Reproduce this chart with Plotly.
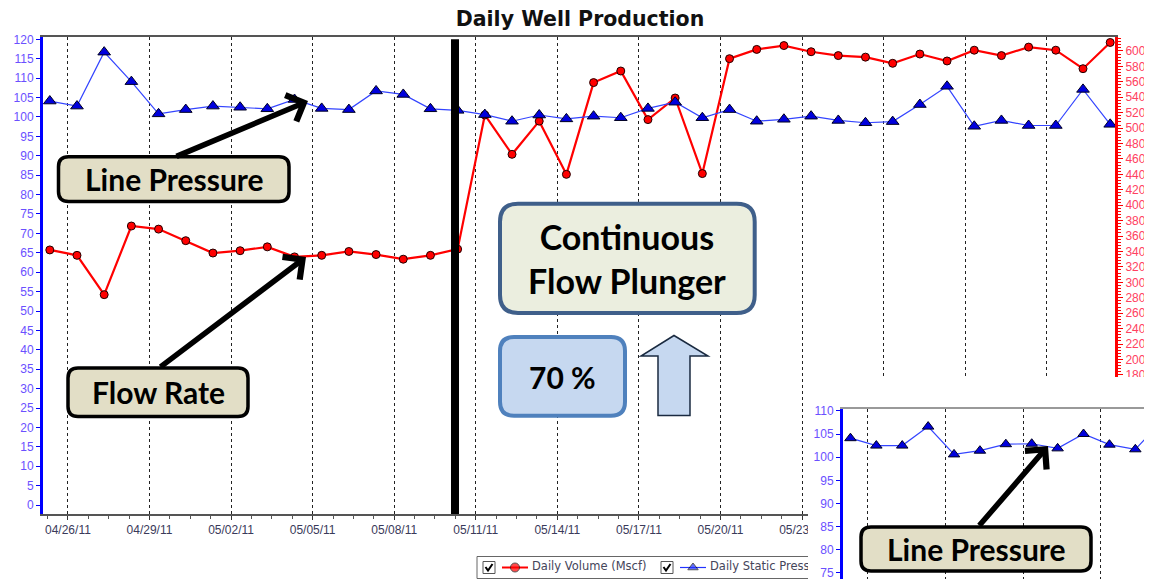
import pandas as pd
import plotly.graph_objects as go

# the page keeps the browser's 8px body margin, so the figure is 8px smaller
# and every layout position below is given in window pixels
OFF = 8
FW, FH = 1152 - OFF, 579 - OFF
DAY_MS = 86400000
TICK_FONT = "Liberation Sans, Arial, sans-serif"
WIDE_FONT = "DejaVu Sans, Verdana, sans-serif"
CALLOUT_FONT = "Lato, Open Sans, sans-serif"

# main chart: one reading per day (logged in the morning)
DATES = pd.date_range("2011-04-25 08:00", periods=40, freq="D")
VOLUME = [342, 335, 284, 373, 369, 354, 338, 341, 346, 333,
          335, 340, 336, 330, 335, 343, 517, 466, 509, 440,
          559, 574, 511, 539, 441, 590, 602, 607, 599, 594,
          592, 584, 596, 587, 601, 594, 605, 601, 577, 611]
PRESSURE = [104.1, 102.8, 116.7, 109.1, 100.8, 101.9, 102.8, 102.5, 102.1, 104.5,
            102.2, 101.9, 106.7, 105.8, 102.1, 101.7, 100.6, 98.9, 100.5, 99.5,
            100.2, 99.8, 102.2, 103.8, 99.8, 101.9, 98.9, 99.4, 100.2, 99.1,
            98.5, 98.8, 103.2, 107.9, 97.6, 99.1, 97.8, 97.8, 107.1, 98.1]
PLUNGER_DATE = "2011-05-10 05:40"

# x ticks every 3 days; labels after 05/23 sit under the pasted inset
TICK_DATES = pd.date_range("2011-04-26", "2011-06-01", freq="3D")
TICK_TEXT = [d.strftime("%m/%d/%y") if d <= pd.Timestamp("2011-05-23") else "" for d in TICK_DATES]

# inset: line pressure from another chart, pasted over the lower right corner
INSET_DATES = pd.date_range("2011-04-25 08:00", periods=13, freq="D")
INSET_PRESSURE = [104.1, 102.5, 102.5, 106.6, 100.6, 101.4, 102.8, 102.9,
                  101.9, 105.0, 102.7, 101.7, 107.6]

LEGEND_NAMES = ["Daily Volume (Mscf)", "Daily Static Pressure"]
LEGEND_COLORS = ["#ff0000", "#2233ff"]
LEGEND_SYMBOLS = ["circle", "triangle-up"]
LEGEND_X = [483, 661]

RED = "#ff0000"
BLUE = "#0000ff"


def px(x):
    return (x - OFF) / FW


def py(y):
    return 1 - (y - OFF) / FH


def rbox(x0, y0, x1, y1, r):
    X = lambda v: f"{px(v):.5f}"
    Y = lambda v: f"{py(v):.5f}"
    return (
        f"M{X(x0 + r)},{Y(y0)} L{X(x1 - r)},{Y(y0)} Q{X(x1)},{Y(y0)} {X(x1)},{Y(y0 + r)} "
        f"L{X(x1)},{Y(y1 - r)} Q{X(x1)},{Y(y1)} {X(x1 - r)},{Y(y1)} "
        f"L{X(x0 + r)},{Y(y1)} Q{X(x0)},{Y(y1)} {X(x0)},{Y(y1 - r)} "
        f"L{X(x0)},{Y(y0 + r)} Q{X(x0)},{Y(y0)} {X(x0 + r)},{Y(y0)} Z"
    )


def poly(points):
    return "M" + " L".join(f"{px(x):.5f},{py(y):.5f}" for x, y in points) + " Z"


fig = go.Figure()

# main chart: volume on the primary (right, red) axis, pressure overlaid on the left
fig.add_trace(go.Scatter(
    x=DATES, y=VOLUME, name=LEGEND_NAMES[0], mode="lines+markers",
    line=dict(color=RED, width=2.2),
    marker=dict(symbol="circle", size=8, color=RED, line=dict(color="#200000", width=1)),
    xaxis="x", yaxis="y",
))
fig.add_trace(go.Scatter(
    x=DATES, y=PRESSURE, name=LEGEND_NAMES[1], mode="lines+markers",
    line=dict(color="#3344ff", width=1.2),
    marker=dict(symbol="triangle-up", size=11, color="#0000dd", line=dict(color="#000022", width=1)),
    xaxis="x", yaxis="y2",
))

# legend strip (drawn before the inset cover so the inset hides its right end)
for i, name in enumerate(LEGEND_NAMES):
    x0 = LEGEND_X[i]
    fig.add_trace(go.Scatter(
        x=[x0 + 19, x0 + 32, x0 + 45], y=[567.5] * 3, mode="lines+markers",
        line=dict(color=LEGEND_COLORS[i], width=2 if i == 0 else 1.2),
        marker=dict(symbol=LEGEND_SYMBOLS[i], size=[0, 9, 0], color=LEGEND_COLORS[i],
                    line=dict(color="#111", width=1)),
        xaxis="x2", yaxis="y3", hoverinfo="skip",
    ))
    fig.add_trace(go.Scatter(
        x=[x0 + 49], y=[567.5], mode="text", text=[name], textposition="middle right",
        textfont=dict(family=WIDE_FONT, size=11.5, color="#45455a"),
        xaxis="x2", yaxis="y3", hoverinfo="skip",
    ))
    fig.add_shape(type="rect", xref="x2", yref="y3", layer="below",
                  x0=x0, x1=x0 + 12, y0=561.5, y1=573.5,
                  line=dict(color="#555", width=1), fillcolor="white")
    fig.add_shape(type="path", xref="x2", yref="y3", layer="below",
                  path=f"M{x0 + 2.5},567 L{x0 + 5},570.5 L{x0 + 9.5},564",
                  line=dict(color="#000", width=2))
fig.add_shape(type="rect", xref="x2", yref="y3", layer="below",
              x0=477, x1=1100, y0=556.5, y1=578.5, line=dict(color="#666", width=1))

# white cover for the pasted inset
fig.add_trace(go.Scatter(x=[0], y=[0], mode="lines", xaxis="x3", yaxis="y4", hoverinfo="skip"))

# inset chart
fig.add_trace(go.Scatter(
    x=INSET_DATES, y=INSET_PRESSURE, mode="lines+markers",
    line=dict(color="#3344ff", width=1.2),
    marker=dict(symbol="triangle-up", size=10, color="#0000dd", line=dict(color="#000022", width=1)),
    xaxis="x4", yaxis="y5",
))

grid = dict(showgrid=True, gridcolor="#222", griddash="3px,3px", gridwidth=1)

fig.update_layout(
    width=FW, height=FH, margin=dict(l=0, r=0, t=0, b=0, autoexpand=False),
    paper_bgcolor="white", plot_bgcolor="white",
    showlegend=False, hovermode=False,
    title=dict(text="<b>Daily Well Production</b>", x=px(580), xanchor="center",
               y=py(19), yanchor="middle",
               font=dict(family=WIDE_FONT, size=20.5, color="#111")),
    xaxis=dict(
        domain=[px(43), px(1115)], type="date",
        range=["2011-04-25 02:00", "2011-06-03 12:15"],
        tickvals=TICK_DATES, ticktext=TICK_TEXT,
        ticks="outside", ticklen=4, tickcolor="#333",
        minor=dict(dtick=0.75 * DAY_MS, tick0="2011-04-26", ticks="outside", ticklen=3,
                   tickcolor="#555", showgrid=False),
        showline=True, linecolor="#555", linewidth=2, mirror=True,
        tickfont=dict(family=TICK_FONT, size=12, color="#3a3a5a"),
        zeroline=False, automargin=False, anchor="y", **grid,
    ),
    yaxis=dict(
        domain=[py(514), py(37)], side="right", range=[-0.4, 618.1],
        tick0=0, dtick=20, ticks="outside", ticklen=5, tickcolor=RED,
        minor=dict(dtick=4, ticks="outside", ticklen=3, tickcolor=RED),
        showline=True, linecolor=RED, linewidth=3,
        tickfont=dict(family=TICK_FONT, size=12, color="#ff4060"),
        showgrid=False, zeroline=False, automargin=False, anchor="x",
    ),
    yaxis2=dict(
        overlaying="y", side="left", range=[-2.3, 120.6],
        tick0=0, dtick=5, ticks="outside", ticklen=4, tickcolor=BLUE,
        showline=True, linecolor=BLUE, linewidth=3,
        tickfont=dict(family=TICK_FONT, size=12, color="#6a50ff"),
        showgrid=False, zeroline=False, automargin=False, anchor="x",
    ),
    xaxis2=dict(domain=[0, 1], range=[OFF, OFF + FW], visible=False, automargin=False, anchor="y3"),
    yaxis3=dict(domain=[0, py(550)], range=[OFF + FH, 550], visible=False, automargin=False, anchor="x2"),
    xaxis3=dict(domain=[px(808), 1], range=[0, 1], visible=False, automargin=False, anchor="y4"),
    yaxis4=dict(domain=[0, py(377)], range=[0, 1], visible=False, automargin=False, anchor="x3"),
    xaxis4=dict(
        domain=[px(843), 1], type="date",
        range=["2011-04-25 01:06", "2011-05-06 23:27"],
        tick0="2011-04-26", dtick=3 * DAY_MS, showticklabels=False, ticks="",
        side="top", showline=True, linecolor="#999", linewidth=2,
        zeroline=False, automargin=False, anchor="y5", **grid,
    ),
    yaxis5=dict(
        domain=[0, py(409)], range=[73.7, 110.4],
        tick0=0, dtick=5, ticks="outside", ticklen=4, tickcolor=BLUE,
        showline=True, linecolor=BLUE, linewidth=3, ticklabeloverflow="allow",
        tickfont=dict(family=TICK_FONT, size=12, color="#6a50ff"),
        showgrid=False, zeroline=False, automargin=False, anchor="x4",
    ),
)

# plunger install marker
fig.add_shape(type="line", xref="x", yref="y2", x0=PLUNGER_DATE, x1=PLUNGER_DATE,
              y0=-2.3, y1=120, line=dict(color="black", width=8), layer="above")

# callout boxes
TAN = "#e2dec6"
boxes = [
    (58.5, 156.7, 289, 201.6, 10, TAN, "black", 3.5),
    (68, 368, 248, 416.5, 10, TAN, "black", 3.5),
    (500, 203.7, 754.7, 313, 18, "#ebeedf", "#3f5f8a", 4),
    (500, 337, 625, 415.7, 14, "#c6d8f0", "#4f81bd", 4),
    (861, 527, 1091, 571, 10, TAN, "black", 3.5),
]
for x0, y0, x1, y1, r, fill, edge, lw in boxes:
    fig.add_shape(type="path", xref="paper", yref="paper", layer="above",
                  path=rbox(x0, y0, x1, y1, r), fillcolor=fill, line=dict(color=edge, width=lw))

fig.add_shape(type="path", xref="paper", yref="paper", layer="above",
              path=poly([(674, 335.5), (708, 356), (690, 356), (690, 415.5),
                         (658, 415.5), (658, 356), (641, 356)]),
              fillcolor="#c6d8f0", line=dict(color="#1a2a40", width=1.5))

labels = [
    ("Line Pressure", 174, 179, 30),
    ("Flow Rate", 158, 392, 30),
    ("Continuous<br>Flow Plunger", 627, 258, 34),
    ("70 %", 562.5, 376.5, 30),
    ("Line Pressure", 976, 549, 30),
]
for text, x, y, size in labels:
    fig.add_annotation(text=f"<b>{text}</b>", x=px(x), y=py(y), xref="paper", yref="paper",
                       xanchor="center", yanchor="middle", showarrow=False,
                       font=dict(family=CALLOUT_FONT, size=size, color="black"))

arrows = [((175, 157), (308, 101)), ((159, 368), (306, 257)), ((978, 527), (1048, 446))]
for (tx, ty), (hx, hy) in arrows:
    fig.add_annotation(text="", x=px(hx), y=py(hy), xref="paper", yref="paper",
                       ax=tx - hx, ay=ty - hy, showarrow=True, arrowhead=4,
                       arrowsize=1, arrowwidth=5.5, arrowcolor="black", standoff=0)

fig.write_html("out.html")
